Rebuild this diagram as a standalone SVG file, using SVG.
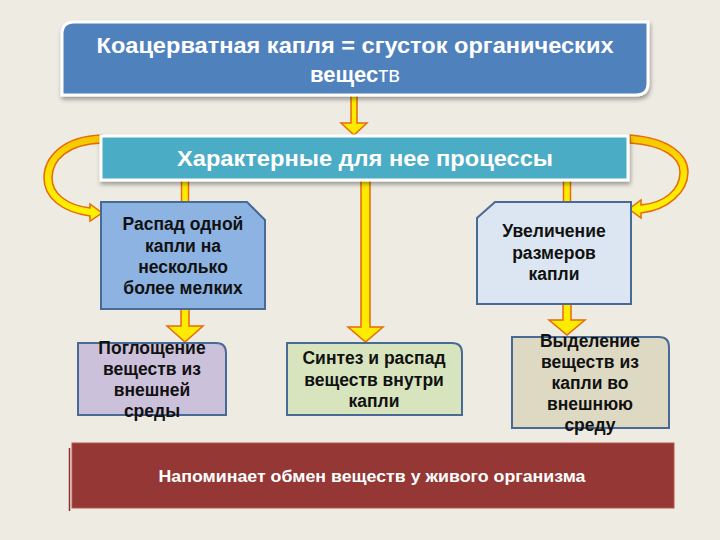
<svg xmlns="http://www.w3.org/2000/svg" width="720" height="540" viewBox="0 0 720 540">
<defs>
<linearGradient id="gy" x1="0" y1="0" x2="0" y2="1">
<stop offset="0" stop-color="#F5C400"/>
<stop offset="0.5" stop-color="#FFE600"/>
<stop offset="1" stop-color="#FFF200"/>
</linearGradient>
<filter id="sh" x="-5%" y="-20%" width="110%" height="150%">
<feDropShadow dx="1" dy="3" stdDeviation="2" flood-color="#000" flood-opacity="0.35"/>
</filter>
<style>
.arr{fill:#FFEB00;stroke:#E46C0A;stroke-width:1.5;stroke-linejoin:miter}
.curve{fill:url(#gy);stroke:#E46C0A;stroke-width:1.5}
.box{stroke:#4A6A96;stroke-width:2}
.wt{font-family:"Liberation Sans",Arial,sans-serif;font-weight:bold;fill:#fff;text-anchor:middle}
.bt{font-family:"Liberation Sans",Arial,sans-serif;font-weight:bold;fill:#111;text-anchor:middle;font-size:17.5px}
</style>
</defs>
<rect width="720" height="540" fill="#EEEBE3"/>

<g id="connectors">
<path class="arr" d="M351,95 H357 V123 H367 L354,135 L341,123 H351 Z"/>
<path class="curve" d="M102,135 C62,136 44,158 44,178 C44,198 62,212 90,216 L90,221 L102,213 L90,204 L90,208 C66,205 52,193 52,178 C52,160 68,144 102,143 Z"/>
<path class="curve" d="M630,135 C670,138 688,155 688,172 C688,192 668,210 641,213 L641,218 L629,209 L641,200 L641,205 C664,203 680,190 680,172 C680,158 664,145 630,143 Z"/>
<path class="arr" d="M181.5,178 H188.5 V205 H181.5 Z"/>
<path class="arr" d="M181,309 H189 V326 H203 L185,342 L167,326 H181 Z"/>
<path class="arr" d="M361,178 H370 V327 H383 L365.5,342 L348,327 H361 Z"/>
<path class="arr" d="M563.5,178 H570.5 V205 H563.5 Z"/>
<path class="arr" d="M563,304 H571 V320 H585 L567,335 L549,320 H563 Z"/>
</g>

<g id="top">
<path d="M74,22 H648 V83 Q648,95 636,95 H62 V34 Q62,22 74,22 Z" fill="#4F81BD" stroke="#fff" stroke-width="3" filter="url(#sh)"/>
<text class="wt" x="355" y="53" font-size="22" textLength="517" lengthAdjust="spacingAndGlyphs">Коацерватная капля = сгусток органических</text>
<text class="wt" x="355" y="82" font-size="22">вещес<tspan font-weight="normal">тв</tspan></text>
</g>

<g id="processes">
<rect x="101" y="136" width="527" height="44" fill="#4BACC6" stroke="#fff" stroke-width="3" filter="url(#sh)"/>
<text class="wt" x="365" y="166" font-size="22" textLength="376" lengthAdjust="spacingAndGlyphs">Характерные для нее процессы</text>
</g>

<g id="raspad">
<path class="box" d="M101,202 H247 L265,220 V309 H101 Z" fill="#8DB3E2"/>
<text class="bt" x="183" y="230">Распад одной</text>
<text class="bt" x="183" y="252">капли на</text>
<text class="bt" x="183" y="273">несколько</text>
<text class="bt" x="183" y="294">более мелких</text>
</g>

<g id="uvelichenie">
<path class="box" d="M495,202 H631 V304 H477 V218 Z" fill="#DCE6F2"/>
<text class="bt" x="554" y="237">Увеличение</text>
<text class="bt" x="554" y="259">размеров</text>
<text class="bt" x="554" y="280">капли</text>
</g>

<g id="pogloshchenie">
<path class="box" d="M78,343 H216 Q226,343 226,353 V415 H78 Z" fill="#CCC1DA"/>
<text class="bt" x="152" y="354">Поглощение</text>
<text class="bt" x="152" y="375">веществ из</text>
<text class="bt" x="152" y="396">внешней</text>
<text class="bt" x="152" y="417">среды</text>
</g>

<g id="sintez">
<path class="box" d="M287,343 H452 Q462,343 462,353 V415 H287 Z" fill="#D7E4BD"/>
<text class="bt" x="374" y="364">Синтез и распад</text>
<text class="bt" x="374" y="386">веществ внутри</text>
<text class="bt" x="374" y="407">капли</text>
</g>

<g id="vydelenie">
<path class="box" d="M512,337 H659 Q669,337 669,347 V428 H512 Z" fill="#DDD9C3"/>
<text class="bt" x="590" y="347">Выделение</text>
<text class="bt" x="590" y="368">веществ из</text>
<text class="bt" x="590" y="389">капли во</text>
<text class="bt" x="590" y="410">внешнюю</text>
<text class="bt" x="590" y="431">среду</text>
</g>

<g id="obmen">
<line x1="69.5" y1="448" x2="69.5" y2="511" stroke="#8B2F2D" stroke-width="1.5"/>
<rect x="72" y="443" width="602" height="65" fill="#953735" stroke="#B85450" stroke-width="1"/>
<text class="wt" x="372" y="482" font-size="17" textLength="427" lengthAdjust="spacingAndGlyphs">Напоминает обмен веществ у живого организма</text>
</g>
</svg>
